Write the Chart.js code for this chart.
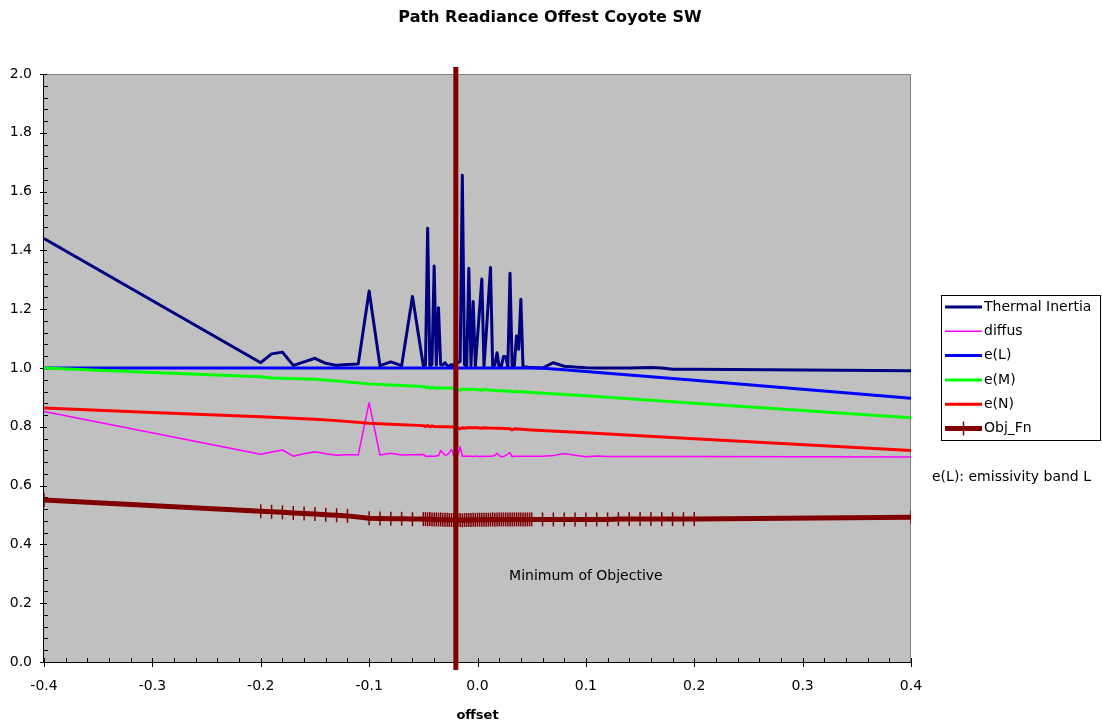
<!DOCTYPE html>
<html>
<head>
<meta charset="utf-8">
<title>Path Readiance Offest Coyote SW</title>
<script src="https://cdn.jsdelivr.net/npm/chart.js@4.4.1/dist/chart.umd.min.js"></script>
<style>
  html, body { margin: 0; padding: 0; background: #ffffff; }
  #chart { display: block; }
</style>
</head>
<body>
<canvas id="chart" width="1102" height="727"></canvas>
<script>
// ---- chart data -------------------------------------------------------
const chartTitle = 'Path Readiance Offest Coyote SW';
const xAxisTitle = 'offset';
const noteText = 'e(L): emissivity band L';
const minimumLabel = 'Minimum of Objective';

const xTickLabels = ['-0.4', '-0.3', '-0.2', '-0.1', '0.0', '0.1', '0.2', '0.3', '0.4'];
const yTickLabels = ['0.0', '0.2', '0.4', '0.6', '0.8', '1.0', '1.2', '1.4', '1.6', '1.8', '2.0'];

const seriesNames = ['Thermal Inertia', 'diffus', 'e(L)', 'e(M)', 'e(N)', 'Obj_Fn'];

// offsets shared by Thermal Inertia, diffus and Obj_Fn
const offsets = [
  -0.40,
  -0.20, -0.19, -0.18, -0.17, -0.16, -0.15, -0.14, -0.13, -0.12, -0.11,
  -0.10, -0.09, -0.08, -0.07, -0.06,
  -0.050, -0.048, -0.046, -0.044, -0.042, -0.040, -0.038, -0.036, -0.034, -0.032,
  -0.030, -0.028, -0.026, -0.024, -0.022, -0.020, -0.018, -0.016, -0.014, -0.012,
  -0.010, -0.008, -0.006, -0.004, -0.002, 0.000, 0.002, 0.004, 0.006, 0.008,
  0.010, 0.012, 0.014, 0.016, 0.018, 0.020, 0.022, 0.024, 0.026, 0.028,
  0.030, 0.032, 0.034, 0.036, 0.038, 0.040, 0.042, 0.044, 0.046, 0.048, 0.050,
  0.06, 0.07, 0.08, 0.09, 0.10, 0.11, 0.12, 0.13, 0.14, 0.15, 0.16, 0.17, 0.18, 0.19, 0.20,
  0.40
];

const thermalInertia = [
  1.440,
  1.018, 1.048, 1.054, 1.009, 1.021, 1.033, 1.016, 1.009, 1.012, 1.014,
  1.262, 1.008, 1.021, 1.008, 1.243,
  1.008, 1.010, 1.475, 1.008, 1.012, 1.347, 1.010, 1.205, 1.012, 1.010,
  1.018, 1.008, 1.006, 1.012, 1.004, 1.025, 1.018, 1.022, 1.656, 1.012,
  1.006, 1.339, 1.008, 1.226, 1.005, 1.104, 1.204, 1.303, 1.006, 1.114,
  1.228, 1.342, 1.006, 1.010, 1.052, 1.004, 1.006, 1.039, 1.039, 1.004,
  1.322, 1.004, 1.008, 1.109, 1.064, 1.234, 1.004, 1.003, 1.003, 1.002, 1.002,
  1.000, 1.018, 1.006, 1.003, 1.001, 1.000, 1.000, 1.000, 1.000, 1.001, 1.002, 1.000, 0.996, 0.996, 0.996,
  0.991
];

const diffus = [
  0.852,
  0.707, 0.714, 0.721, 0.700, 0.708, 0.715, 0.708, 0.703, 0.705, 0.705,
  0.882, 0.704, 0.710, 0.704, 0.705,
  0.706, 0.700, 0.700, 0.701, 0.700, 0.700, 0.701, 0.702, 0.719, 0.712,
  0.704, 0.705, 0.712, 0.723, 0.702, 0.702, 0.704, 0.732, 0.700, 0.700,
  0.701, 0.700, 0.700, 0.699, 0.700, 0.700, 0.699, 0.700, 0.699, 0.700,
  0.700, 0.700, 0.701, 0.702, 0.710, 0.703, 0.698, 0.699, 0.703, 0.707,
  0.712, 0.698, 0.700, 0.700, 0.700, 0.700, 0.700, 0.700, 0.700, 0.700, 0.700,
  0.700, 0.702, 0.709, 0.703, 0.698, 0.701, 0.699, 0.699, 0.699, 0.699, 0.699, 0.699, 0.699, 0.699, 0.699,
  0.697
];

// no Obj_Fn value was recorded at -0.11
const objFn = [
  0.551,
  0.513, 0.511, 0.509, 0.507, 0.505, 0.503, 0.501, 0.499, 0.497, null,
  0.489, 0.488, 0.487, 0.487, 0.486,
  0.486, 0.486, 0.485, 0.486, 0.485, 0.485, 0.485, 0.484, 0.485, 0.484,
  0.484, 0.484, 0.483, 0.483, 0.483, 0.482, 0.483, 0.483, 0.482, 0.483,
  0.483, 0.483, 0.483, 0.484, 0.483, 0.484, 0.484, 0.484, 0.484, 0.484,
  0.484, 0.484, 0.485, 0.484, 0.485, 0.485, 0.485, 0.485, 0.485, 0.485,
  0.485, 0.485, 0.485, 0.485, 0.485, 0.485, 0.485, 0.485, 0.485, 0.485, 0.485,
  0.485, 0.485, 0.485, 0.485, 0.485, 0.485, 0.485, 0.486, 0.486, 0.486, 0.486, 0.486, 0.486, 0.486, 0.486,
  0.492
];

const eLOffsets = [-0.40, -0.20, 0.00, 0.05, 0.06, 0.08, 0.10, 0.20, 0.30, 0.40];
const eL = [1.000, 1.000, 1.000, 1.000, 0.999, 0.994, 0.988, 0.958, 0.928, 0.897];

const eMOffsets = [-0.40, -0.30, -0.20, -0.19, -0.15, -0.13, -0.10, -0.08, -0.05, -0.048,
  -0.046, -0.044, -0.042, -0.040, -0.030, -0.020, -0.016, -0.014, -0.012, -0.010,
  0.000, 0.004, 0.006, 0.010, 0.020, 0.030, 0.032, 0.034, 0.050, 0.10, 0.20, 0.40];
const eM = [1.000, 0.985, 0.970, 0.966, 0.962, 0.956, 0.946, 0.942, 0.937, 0.933,
  0.936, 0.931, 0.935, 0.932, 0.932, 0.931, 0.924, 0.929, 0.926, 0.928,
  0.927, 0.924, 0.928, 0.925, 0.923, 0.921, 0.918, 0.921, 0.917, 0.906, 0.880, 0.831];

const eNOffsets = [-0.40, -0.30, -0.20, -0.15, -0.13, -0.10, -0.08, -0.05, -0.048, -0.046,
  -0.044, -0.042, -0.040, -0.030, -0.020, -0.016, -0.014, -0.012, -0.010, 0.000,
  0.004, 0.006, 0.010, 0.020, 0.030, 0.032, 0.034, 0.050, 0.10, 0.20, 0.40];
const eN = [0.864, 0.849, 0.834, 0.826, 0.821, 0.812, 0.809, 0.804, 0.801, 0.804,
  0.800, 0.803, 0.801, 0.800, 0.799, 0.793, 0.797, 0.795, 0.797, 0.797,
  0.795, 0.797, 0.796, 0.795, 0.793, 0.790, 0.793, 0.789, 0.780, 0.759, 0.719];

// vertical marker at the objective minimum
const minimumOffset = [-0.02, -0.02];
const minimumSpan = [-0.027, 2.024];

// ---- helpers -----------------------------------------------------------
const FONT = '"DejaVu Sans", "Liberation Sans", Arial, sans-serif';
const zip = (xs, ys) => xs.map((x, i) => ({ x: x, y: ys[i] }));

const palette = {
  thermal: '#000080',
  diffus: '#FF00FF',
  eL: '#0000FF',
  eM: '#00FF00',
  eN: '#FF0000',
  obj: '#800000'
};

// ---- plugins -------------------------------------------------------------
const plotFrame = {
  id: 'plotFrame',
  beforeDatasetsDraw(chart) {
    const { ctx, chartArea: a, scales } = chart;
    ctx.save();
    ctx.fillStyle = '#C0C0C0';
    ctx.fillRect(a.left, a.top, a.right - a.left, a.bottom - a.top);
    // grey frame on top and right
    ctx.strokeStyle = '#808080';
    ctx.lineWidth = 1;
    ctx.beginPath();
    ctx.moveTo(a.left, a.top + 0.5);
    ctx.lineTo(a.right - 0.5, a.top + 0.5);
    ctx.lineTo(a.right - 0.5, a.bottom);
    ctx.stroke();
    // black axes
    ctx.strokeStyle = '#000000';
    ctx.beginPath();
    ctx.moveTo(a.left - 0.5, a.top);
    ctx.lineTo(a.left - 0.5, a.bottom + 0.5);
    ctx.lineTo(a.right, a.bottom + 0.5);
    ctx.stroke();
    // tick marks: majors cross the axis, minors sit inside
    const xs = scales.x, ys = scales.y;
    ctx.beginPath();
    for (let i = 0; i <= 40; i++) {
      const px = Math.round(xs.getPixelForValue(-0.4 + i * 0.02)) + 0.5;
      if (i % 5 === 0) { ctx.moveTo(px, a.bottom - 4); ctx.lineTo(px, a.bottom + 5); }
      else { ctx.moveTo(px, a.bottom - 4); ctx.lineTo(px, a.bottom); }
    }
    for (let j = 0; j <= 50; j++) {
      const py = Math.round(ys.getPixelForValue(j * 0.04)) + 0.5;
      if (j % 5 === 0) { ctx.moveTo(a.left - 4, py); ctx.lineTo(a.left + 3, py); }
      else { ctx.moveTo(a.left, py); ctx.lineTo(a.left + 4, py); }
    }
    ctx.stroke();
    ctx.restore();
  },
  afterDraw(chart) {
    const { ctx, scales } = chart;
    ctx.save();
    ctx.fillStyle = '#000000';
    ctx.textBaseline = 'middle';
    // chart title
    ctx.font = 'bold 16px ' + FONT;
    ctx.textAlign = 'center';
    ctx.fillText(chartTitle, 550, 18);
    // label placed in data space
    ctx.font = '14px ' + FONT;
    ctx.fillText(minimumLabel, scales.x.getPixelForValue(0.1), scales.y.getPixelForValue(0.29));
    // side note
    ctx.textAlign = 'left';
    ctx.fillText(noteText, 932, 477);

    // legend
    const box = { left: 941, top: 295, right: 1101, bottom: 441 };
    ctx.fillStyle = '#FFFFFF';
    ctx.fillRect(box.left, box.top, box.right - box.left, box.bottom - box.top);
    ctx.strokeStyle = '#000000';
    ctx.lineWidth = 1;
    ctx.strokeRect(box.left + 0.5, box.top + 0.5, box.right - box.left - 1, box.bottom - box.top - 1);
    const legendSets = chart.data.datasets.filter(d => seriesNames.includes(d.label));
    legendSets.forEach((d, i) => {
      const y = 307 + i * 24.3;
      ctx.strokeStyle = d.borderColor;
      ctx.lineWidth = d.borderWidth;
      ctx.beginPath();
      ctx.moveTo(945, y);
      ctx.lineTo(982, y);
      ctx.stroke();
      if (d.pointStyle === 'line') {
        ctx.lineWidth = d.pointBorderWidth;
        ctx.beginPath();
        ctx.moveTo(963.5, y - d.pointRadius);
        ctx.lineTo(963.5, y + d.pointRadius);
        ctx.stroke();
      }
      ctx.fillStyle = '#000000';
      ctx.font = '14px ' + FONT;
      ctx.fillText(d.label, 984, y);
    });
    ctx.restore();
  }
};

// ---- chart ---------------------------------------------------------------
new Chart(document.getElementById('chart'), {
  type: 'line',
  data: {
    datasets: [
      { label: seriesNames[0], data: zip(offsets, thermalInertia), borderColor: palette.thermal,
        borderWidth: 3, pointRadius: 0, order: 7 },
      { label: seriesNames[1], data: zip(offsets, diffus), borderColor: palette.diffus,
        borderWidth: 1.5, pointRadius: 0, order: 6 },
      { label: seriesNames[2], data: zip(eLOffsets, eL), borderColor: palette.eL,
        borderWidth: 3, pointRadius: 0, order: 5 },
      { label: seriesNames[3], data: zip(eMOffsets, eM), borderColor: palette.eM,
        borderWidth: 3, pointRadius: 0, order: 4 },
      { label: seriesNames[4], data: zip(eNOffsets, eN), borderColor: palette.eN,
        borderWidth: 3, pointRadius: 0, order: 3 },
      { label: seriesNames[5], data: zip(offsets, objFn), borderColor: palette.obj,
        borderWidth: 5, spanGaps: true, pointStyle: 'line', rotation: 90, pointRadius: 7, pointBorderWidth: 1.5,
        pointBorderColor: palette.obj, pointBackgroundColor: palette.obj, order: 2 },
      { label: 'minimum', data: zip(minimumOffset, minimumSpan), borderColor: palette.obj,
        borderWidth: 5, pointRadius: 0, clip: false, order: 1 }
    ]
  },
  options: {
    responsive: false,
    animation: false,
    devicePixelRatio: 1,
    layout: { padding: { left: 0, right: 191, top: 74, bottom: 0 } },
    elements: { line: { tension: 0, borderCapStyle: 'butt', borderJoinStyle: 'round' } },
    plugins: {
      legend: { display: false },
      tooltip: { enabled: false },
      title: { display: false }
    },
    scales: {
      x: {
        type: 'linear', min: -0.4, max: 0.4,
        grid: { display: false, drawTicks: false },
        border: { display: false },
        ticks: {
          stepSize: 0.1, autoSkip: false, maxRotation: 0, padding: 16,
          color: '#000000', font: { family: FONT, size: 14 },
          callback: (v, i) => xTickLabels[i]
        },
        title: {
          display: true, text: xAxisTitle, color: '#000000',
          font: { family: FONT, size: 13, weight: 'bold' },
          padding: { top: 0, bottom: 4 }
        },
        afterFit: s => { s.height = 65; }
      },
      y: {
        min: 0, max: 2,
        grid: { display: false, drawTicks: false },
        border: { display: false },
        ticks: {
          stepSize: 0.2, padding: 12,
          color: '#000000', font: { family: FONT, size: 14 },
          callback: (v, i) => yTickLabels[i]
        },
        afterFit: s => { s.width = 44; }
      }
    }
  },
  plugins: [plotFrame]
});
</script>
</body>
</html>
